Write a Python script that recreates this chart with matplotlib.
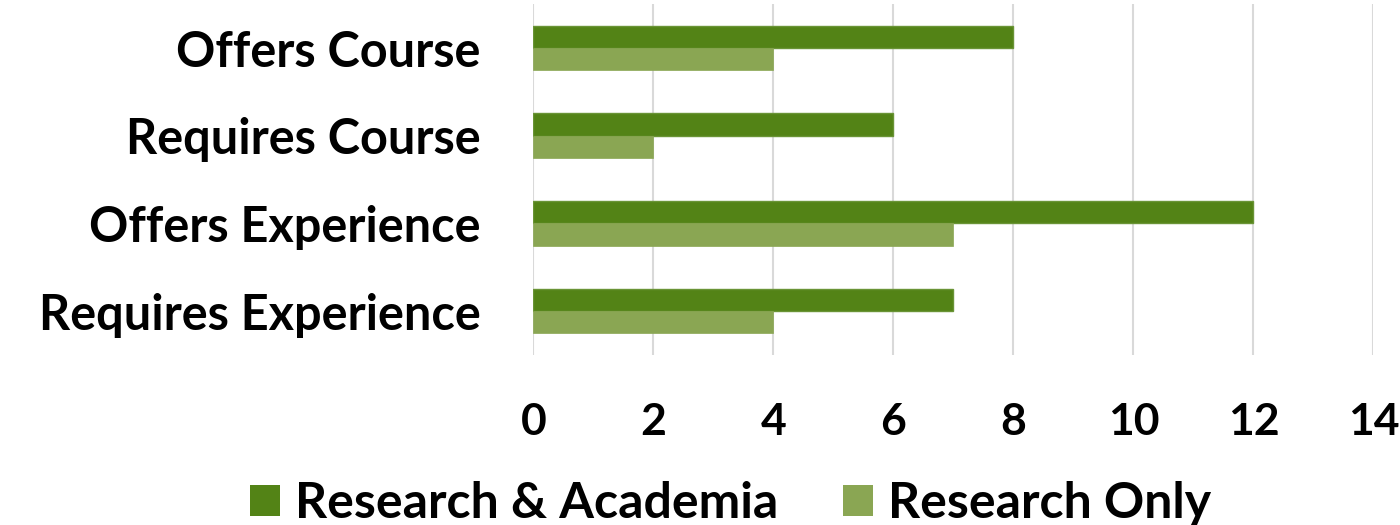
import numpy as np
import matplotlib
matplotlib.use('Agg')
import matplotlib.pyplot as plt
from matplotlib.patches import Patch

plt.rcParams.update({'font.family': ['Lato', 'DejaVu Sans'], 'font.weight': 'bold'})

categories = ['Offers Course', 'Requires Course', 'Offers Experience', 'Requires Experience']
research_academia = [8, 6, 12, 7]
research_only = [4, 2, 7, 4]
series_names = ['Research & Academia', 'Research Only']

DARK = '#538316'
LIGHT = '#8aa653'

fig = plt.figure(figsize=(14, 5.25), dpi=100)
ax = fig.add_axes([0.381, 0.324, 0.600, 0.668])

y = np.arange(len(categories))
h = 0.255
ax.barh(y - h / 2, research_academia, h, color=DARK, edgecolor='#6a9436', lw=1.0, zorder=3)
ax.barh(y + h / 2, research_only, h, color=LIGHT, edgecolor=LIGHT, lw=0.5, zorder=3)

ax.set_ylim(3.5, -0.5)
ax.set_xlim(0, 14)
ax.set_xticks(np.arange(0, 15, 2))
ax.set_yticks(y)
ax.set_yticklabels(categories, fontsize=35, fontweight='bold')
ax.tick_params(axis='x', labelsize=32, pad=34, length=0)
ax.tick_params(axis='y', pad=38, length=0)
for lab in ax.get_xticklabels():
    lab.set_fontweight('bold')
ax.grid(axis='x', color='#d9d9d9', lw=1.5, zorder=0)
for s in ax.spines.values():
    s.set_visible(False)

handles = [Patch(facecolor=DARK), Patch(facecolor=LIGHT)]
fig.legend(handles, series_names, loc='lower center', bbox_to_anchor=(0.522, -0.088), ncol=2,
           frameon=False, prop={'size': 36, 'weight': 'bold'}, handlelength=0.6, handleheight=0.6,
           handletextpad=0.3, columnspacing=1.3)

fig.savefig('out.png', dpi=100)
